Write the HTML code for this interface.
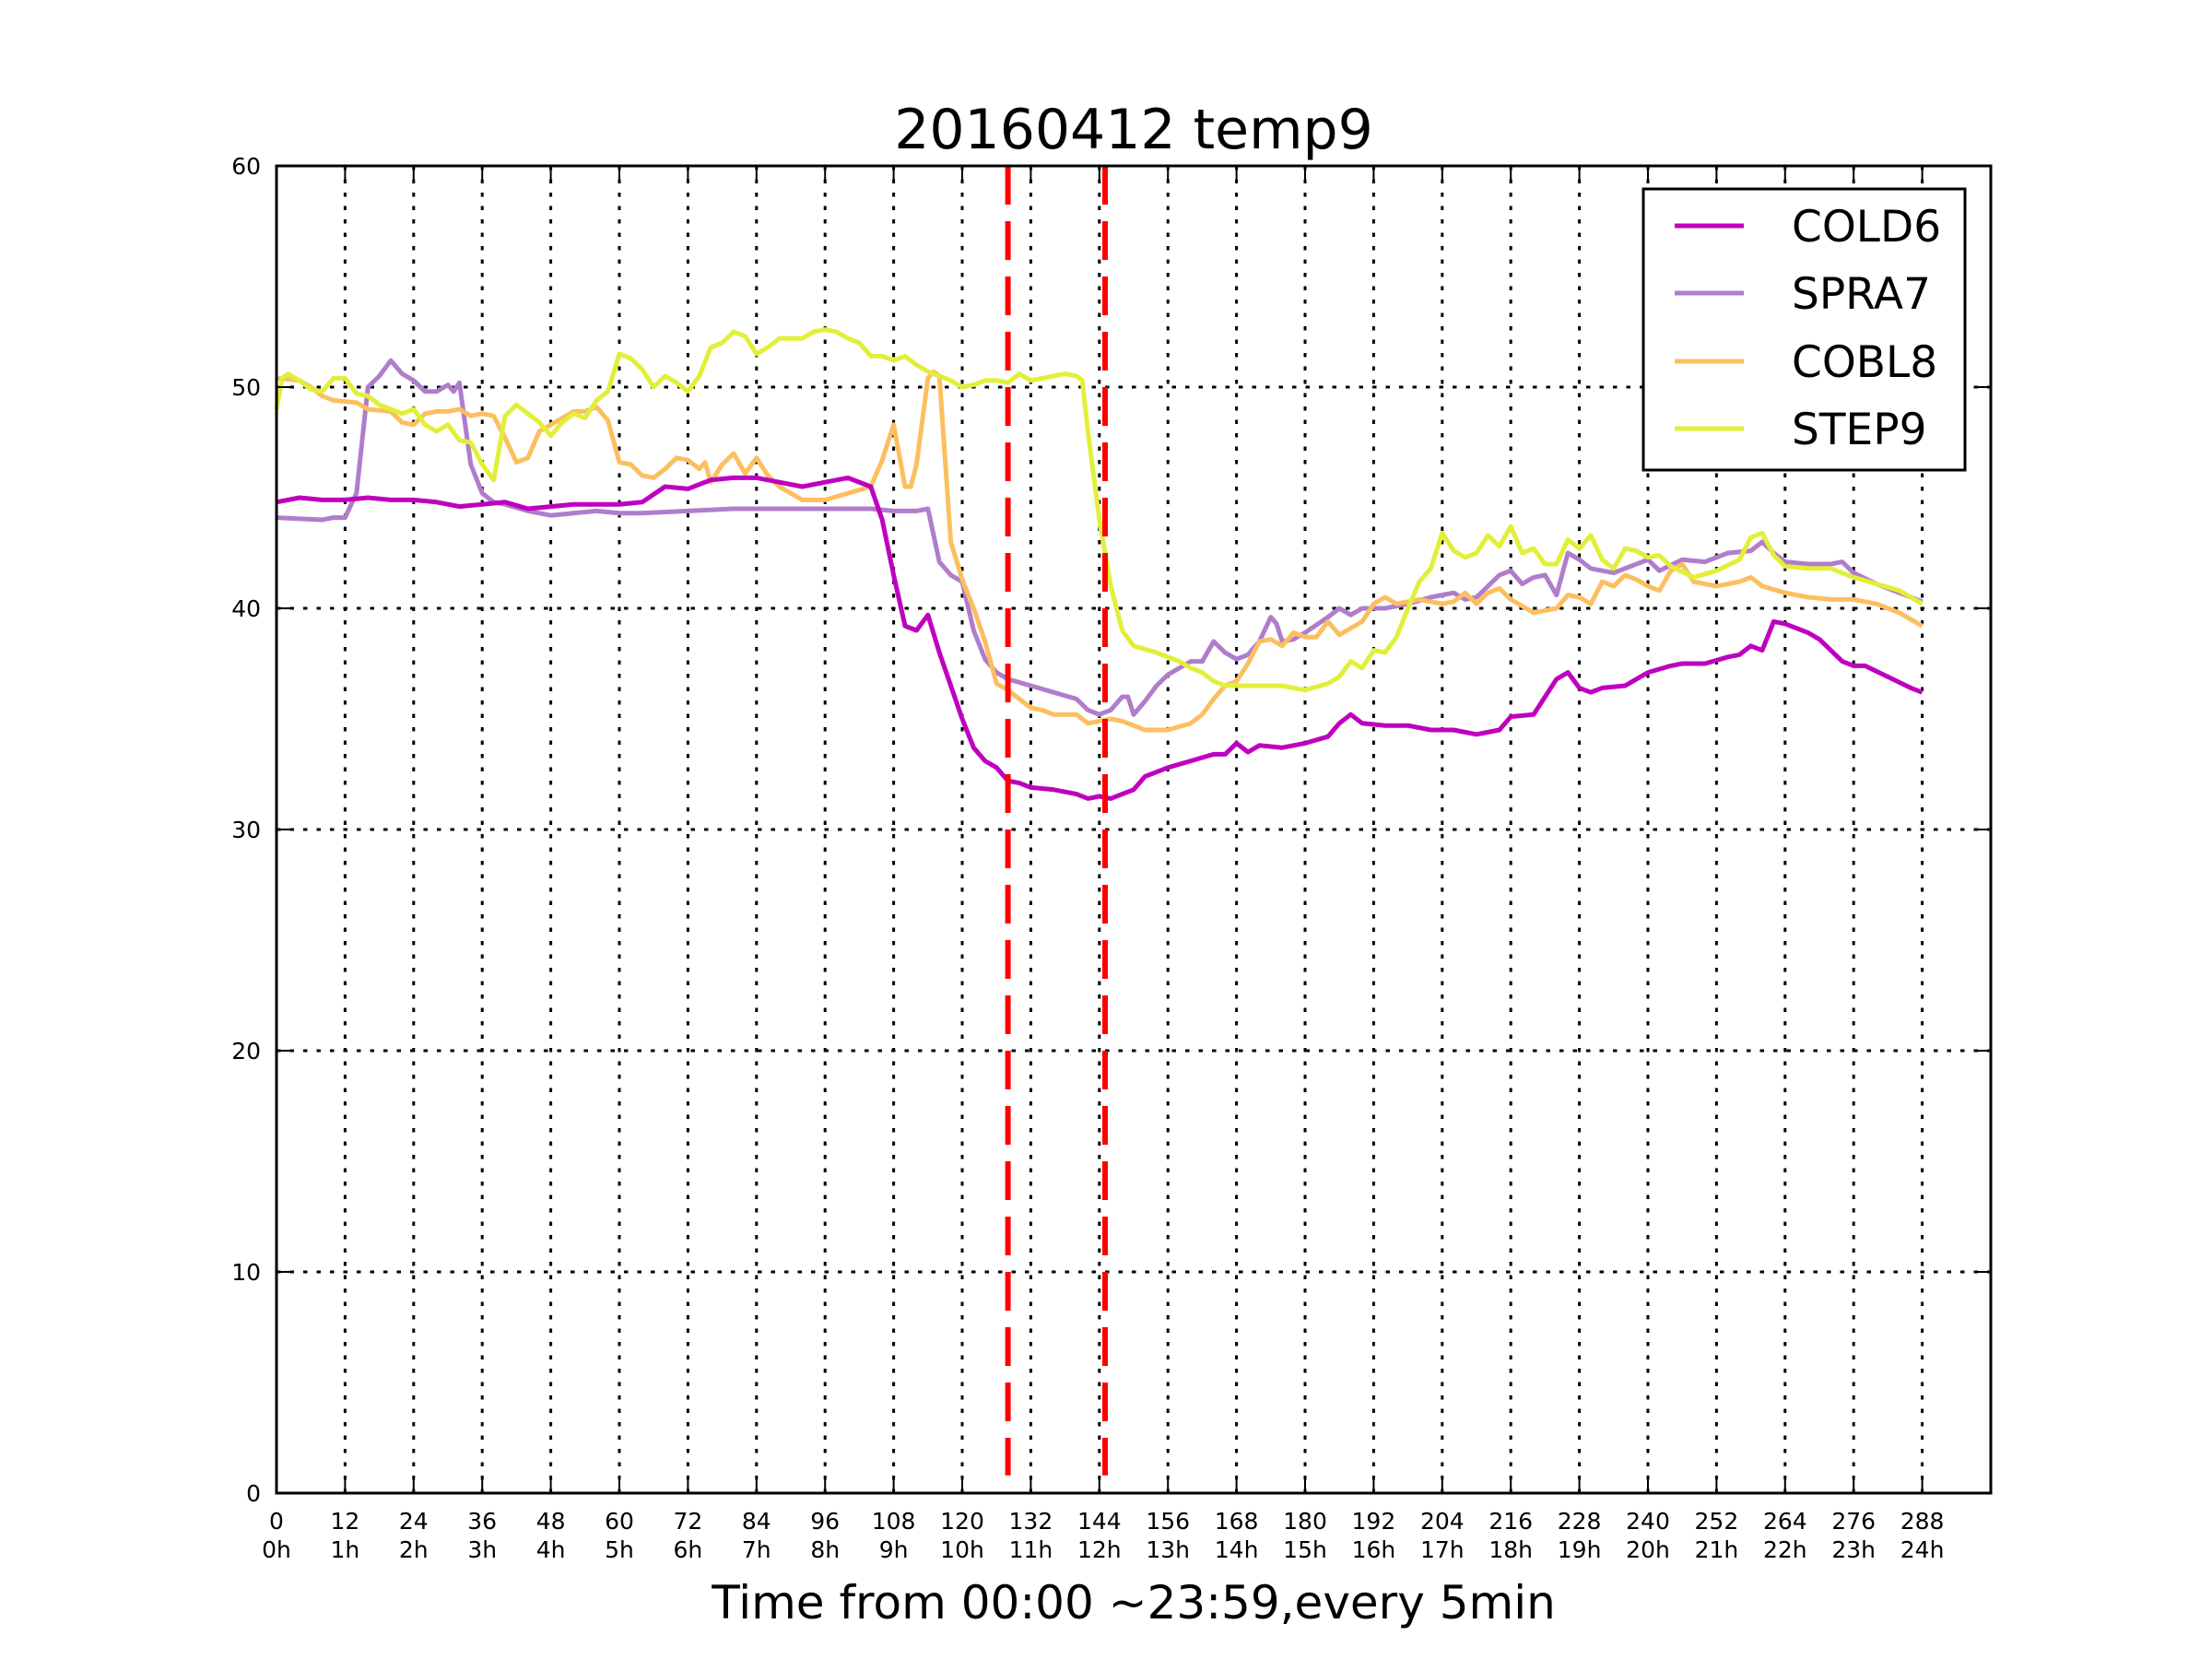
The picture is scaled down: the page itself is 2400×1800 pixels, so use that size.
<!DOCTYPE html>
<html><head><meta charset="utf-8"><style>
html,body{margin:0;padding:0;background:#fff}
svg{display:block;font-family:"DejaVu Sans","Liberation Sans",sans-serif}
</style></head><body>
<svg id="chart" width="2400" height="1800" viewBox="0 0 2400 1800" xmlns="http://www.w3.org/2000/svg">
<rect width="2400" height="1800" fill="#fff"/>
<text x="1230" y="161" font-size="60" text-anchor="middle">20160412 temp9</text>
<text x="1230" y="1756" font-size="50" text-anchor="middle">Time from 00:00 ~23:59,every 5min</text>
<g id="grid"></g>
<g id="series"></g>
<g id="ticks"></g>
<rect x="300" y="180" width="1860" height="1440" fill="none" stroke="#000" stroke-width="3"/>
<g>
<rect x="1783" y="205" width="349" height="305" fill="#fff" stroke="#000" stroke-width="3"/>
<line x1="1817" y1="245" x2="1892" y2="245" stroke="#bf00bf" stroke-width="5"/>
<text x="1944" y="262" font-size="47">COLD6</text>
<line x1="1817" y1="318" x2="1892" y2="318" stroke="#b07dcb" stroke-width="5"/>
<text x="1944" y="335" font-size="47">SPRA7</text>
<line x1="1817" y1="392" x2="1892" y2="392" stroke="#fcbf60" stroke-width="5"/>
<text x="1944" y="409" font-size="47">COBL8</text>
<line x1="1817" y1="465" x2="1892" y2="465" stroke="#e2ef3a" stroke-width="5"/>
<text x="1944" y="482" font-size="47">STEP9</text>
</g>
</svg>
<script>
const xTicks=[0,12,24,36,48,60,72,84,96,108,120,132,144,156,168,180,192,204,216,228,240,252,264,276,288];
const xTickHours=["0h","1h","2h","3h","4h","5h","6h","7h","8h","9h","10h","11h","12h","13h","14h","15h","16h","17h","18h","19h","20h","21h","22h","23h","24h"];
const yTicks=[0,10,20,30,40,50,60];
const markers=[128,145];

const cold6X=[0,4,8,12,16,20,24,28,32,36,40,44,48,52,56,60,64,68,72,76,80,84,88,92,96,100,104,106,108,110,112,114,116,118,120,122,124,126,128,130,132,136,140,142,144,146,148,150,152,156,160,164,166,168,170,172,176,180,184,186,188,190,194,198,202,206,210,214,216,220,222,224,226,228,230,232,236,240,244,246,250,254,256,258,260,262,264,268,270,274,276,278,282,286,288];
const cold6Y=[44.8,45,44.9,44.9,45,44.9,44.9,44.8,44.6,44.7,44.8,44.5,44.6,44.7,44.7,44.7,44.8,45.5,45.4,45.8,45.9,45.9,45.7,45.5,45.7,45.9,45.5,44,41.5,39.2,39,39.7,38,36.5,35,33.7,33.1,32.8,32.2,32.1,31.9,31.8,31.6,31.4,31.5,31.4,31.6,31.8,32.4,32.8,33.1,33.4,33.4,33.9,33.5,33.8,33.7,33.9,34.2,34.8,35.2,34.8,34.7,34.7,34.5,34.5,34.3,34.5,35.1,35.2,36,36.8,37.1,36.4,36.2,36.4,36.5,37.1,37.4,37.5,37.5,37.8,37.9,38.3,38.1,39.4,39.3,38.9,38.6,37.6,37.4,37.4,36.9,36.4,36.2];

const spra7X=[0,8,10,12,14,16,18,20,22,24,26,28,30,31,32,34,36,38,40,44,48,52,56,60,64,72,80,90,96,100,104,108,112,114,116,118,120,122,124,126,128,132,136,140,142,144,146,148,149,150,152,154,156,158,160,162,164,166,168,170,172,174,175,176,178,180,184,186,188,190,194,198,202,206,208,210,214,216,218,220,222,224,226,228,230,234,238,240,242,246,250,254,258,260,262,264,268,272,274,276,280,284,288];
const spra7Y=[44.1,44,44.1,44.1,45.2,50,50.5,51.2,50.6,50.3,49.8,49.8,50.1,49.8,50.2,46.5,45.2,44.8,44.7,44.4,44.2,44.3,44.4,44.3,44.3,44.4,44.5,44.5,44.5,44.5,44.5,44.4,44.4,44.5,42.1,41.5,41.2,39,37.7,37.1,36.8,36.5,36.2,35.9,35.4,35.2,35.4,36,36,35.2,35.8,36.5,37,37.3,37.6,37.6,38.5,38,37.7,37.9,38.5,39.6,39.3,38.5,38.6,38.9,39.6,40,39.7,40,40,40.2,40.5,40.7,40.4,40.5,41.5,41.7,41.1,41.4,41.5,40.6,42.5,42.2,41.8,41.6,42,42.2,41.7,42.2,42.1,42.5,42.6,43,42.5,42.1,42,42,42.1,41.6,41.1,40.7,40.3];

const cobl8X=[0,4,6,8,10,14,16,20,22,24,26,28,30,32,34,36,38,40,42,44,46,48,50,52,54,56,58,60,62,64,66,68,70,72,74,75,76,78,80,82,84,86,88,90,92,96,100,104,106,108,110,111,112,114,115,116,118,120,122,124,126,128,130,132,134,136,140,142,144,146,148,150,152,156,160,162,164,166,168,170,172,174,176,178,180,182,184,186,188,190,192,194,196,200,204,206,208,210,212,214,216,220,224,226,228,230,232,234,236,238,240,242,244,246,248,252,256,258,260,264,268,272,276,280,284,288];
const cobl8Y=[50.4,50.3,50,49.6,49.4,49.3,49,48.9,48.4,48.3,48.8,48.9,48.9,49,48.7,48.8,48.7,47.7,46.6,46.8,48,48.3,48.6,48.9,48.9,49.1,48.5,46.6,46.5,46,45.9,46.3,46.8,46.7,46.3,46.6,45.7,46.5,47,46.1,46.8,46,45.5,45.2,44.9,44.9,45.2,45.5,46.7,48.3,45.5,45.5,46.5,50.4,50.7,50.5,43,41.3,40,38.5,36.6,36.3,35.9,35.5,35.4,35.2,35.2,34.8,34.9,35,34.9,34.7,34.5,34.5,34.8,35.2,35.9,36.5,36.7,37.5,38.5,38.6,38.3,38.9,38.7,38.7,39.4,38.8,39.1,39.4,40.2,40.5,40.2,40.4,40.2,40.3,40.7,40.2,40.7,40.9,40.4,39.8,40,40.6,40.5,40.2,41.2,41,41.5,41.3,41,40.8,41.7,42,41.2,41,41.2,41.4,41,40.7,40.5,40.4,40.4,40.2,39.8,39.2];

const step9X=[0,1,2,4,6,8,10,12,14,16,18,20,22,24,26,28,30,32,34,36,38,40,42,44,46,48,50,52,54,56,58,60,62,64,66,68,70,72,74,76,78,80,82,84,86,88,92,94,96,98,100,102,104,106,108,110,112,114,116,118,120,122,124,126,128,130,132,134,136,138,140,141,142,144,146,148,150,154,156,158,160,162,164,166,168,172,176,180,184,186,188,190,192,194,196,198,200,202,204,206,208,210,212,214,216,218,220,222,224,226,228,230,232,234,236,238,240,242,244,248,252,256,258,260,262,264,268,272,276,280,284,288];
const step9Y=[49,50.4,50.6,50.3,49.9,49.8,50.4,50.4,49.7,49.6,49.2,49,48.8,49,48.3,48,48.3,47.6,47.5,46.5,45.8,48.7,49.2,48.8,48.4,47.8,48.4,48.8,48.6,49.4,49.8,51.5,51.3,50.8,50,50.5,50.2,49.8,50.5,51.8,52,52.5,52.3,51.5,51.8,52.2,52.2,52.5,52.6,52.5,52.2,52,51.4,51.4,51.2,51.4,51,50.7,50.5,50.3,50,50.1,50.3,50.3,50.2,50.6,50.3,50.4,50.5,50.6,50.5,50.3,48,44,41,39,38.3,38,37.8,37.6,37.3,37.1,36.7,36.5,36.5,36.5,36.5,36.3,36.6,36.9,37.6,37.3,38.1,38,38.7,40,41.2,41.8,43.4,42.6,42.3,42.5,43.3,42.8,43.7,42.5,42.7,42,42,43.1,42.7,43.3,42.2,41.8,42.7,42.6,42.3,42.4,41.9,41.4,41.7,42.2,43.2,43.4,42.4,41.9,41.8,41.8,41.4,41.1,40.8,40.2];

const NS="http://www.w3.org/2000/svg";
const L=300,R=2160,T=180,B=1620,XMAX=300,YMAX=60;
function sx(v){return L+v/XMAX*(R-L);}
function sy(v){return B-v/YMAX*(B-T);}
function mk(tag,attrs,parent){const e=document.createElementNS(NS,tag);for(const k in attrs)e.setAttribute(k,attrs[k]);parent.appendChild(e);return e;}
const grid=document.getElementById('grid'),ticks=document.getElementById('ticks'),ser=document.getElementById('series');

xTicks.forEach((t,i)=>{
  const x=sx(t);
  if(t>0){const g=mk('line',{x1:x,y1:T,x2:x,y2:B,stroke:'#000','stroke-width':3,'stroke-dasharray':'4.5 10'},grid);
  
  }
  const a=mk('line',{x1:x,y1:B,x2:x,y2:B-17,stroke:'#000','stroke-width':2},ticks);
  
  
  const b=mk('line',{x1:x,y1:T,x2:x,y2:T+17,stroke:'#000','stroke-width':2},ticks);
  
  
  const l1=mk('text',{x:x,y:1659,'font-size':25,'text-anchor':'middle'},ticks);l1.textContent=String(t);
  
  
  const l2=mk('text',{x:x,y:1690,'font-size':25,'text-anchor':'middle'},ticks);l2.textContent=xTickHours[i];
  
  
});
yTicks.forEach(t=>{
  const y=sy(t);
  if(t>0&&t<60){const g=mk('line',{x1:L,y1:y,x2:R,y2:y,stroke:'#000','stroke-width':3,'stroke-dasharray':'4.5 10'},grid);
  
  }
  const a=mk('line',{x1:L,y1:y,x2:L+17,y2:y,stroke:'#000','stroke-width':2},ticks);
  
  
  const b=mk('line',{x1:R,y1:y,x2:R-17,y2:y,stroke:'#000','stroke-width':2},ticks);
  
  
  const l=mk('text',{x:283,y:y+9,'font-size':25,'text-anchor':'end'},ticks);l.textContent=String(t);
  
  
});
function drawSeries(xs,ys,color,name){
  const d=xs.map((x,i)=>(i?'L':'M')+sx(x).toFixed(1)+' '+sy(ys[i]).toFixed(1)).join(' ');
  const p=mk('path',{d:d,fill:'none',stroke:color,'stroke-width':5,'stroke-linejoin':'round'},ser);
  
  
}
drawSeries(spra7X,spra7Y,'#b07dcb','series-spra7');
drawSeries(cobl8X,cobl8Y,'#fcbf60','series-cobl8');
drawSeries(step9X,step9Y,'#e2ef3a','series-step9');
drawSeries(cold6X,cold6Y,'#bf00bf','series-cold6');
markers.forEach(m=>{
  const l=mk('line',{x1:sx(m),y1:sy(60),x2:sx(m),y2:sy(0.8),stroke:'#ff0000','stroke-width':6,'stroke-dasharray':'42 18'},ser);
  
  
});
</script>
</body></html>
